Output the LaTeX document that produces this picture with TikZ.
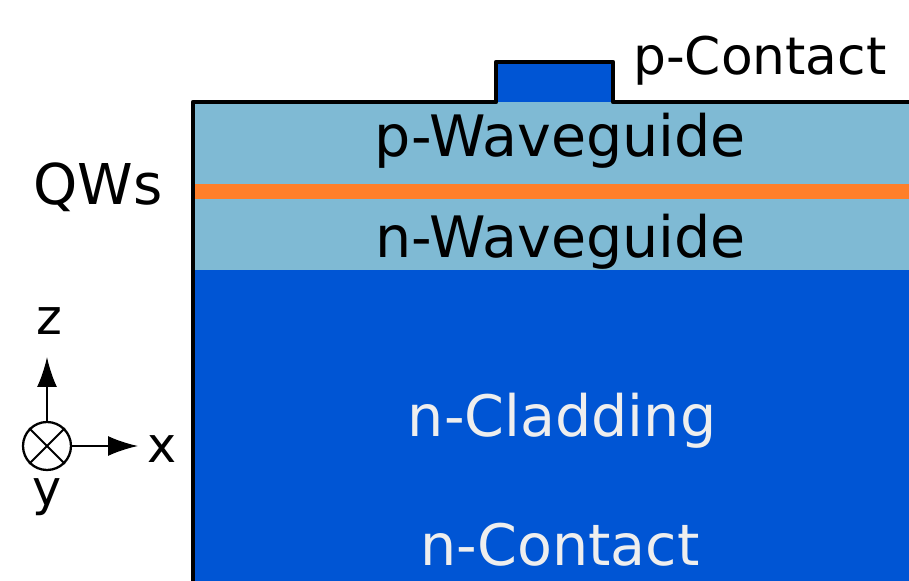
\documentclass[tikz,border=0pt]{standalone}
\usepackage{fontspec}
\setmainfont{DejaVu Sans}
\usetikzlibrary{arrows.meta,positioning,calc}

\definecolor{wgblue}{HTML}{7FBAD4}
\definecolor{qworange}{HTML}{FF7F2A}
\definecolor{cladblue}{HTML}{0055D4}
\definecolor{offwhite}{HTML}{EEEEEE}

\begin{document}
\begin{tikzpicture}
    [>={Latex[length=0.6cm,width=0.4cm]},
     layer/.style={font=\fontsize{32.5}{33}\selectfont,anchor=base},
     axislabel/.style={font=\fontsize{28}{28}\selectfont,anchor=base}]

    \useasboundingbox (0,0) rectangle (18.18,11.6);
    \begin{scope}
    \clip (0,0) rectangle (18.18,11.6);

    % layer stack
    \fill[cladblue] (3.86,-1) rectangle (20,6.2);
    \fill[wgblue] (3.86,6.2) rectangle (20,7.62);
    \fill[qworange] (3.86,7.62) rectangle (20,7.92);
    \fill[wgblue] (3.86,7.92) rectangle (20,9.56);
    \fill[cladblue] (9.92,9.56) rectangle (12.26,10.36);

    % outline
    \draw[line width=2.6pt,line join=round] (3.86,-1) -- (3.86,9.56) -- (9.92,9.56)
        -- (9.92,10.36) -- (12.26,10.36) -- (12.26,9.56) -- (20,9.56);
    \end{scope}

    \node[layer] (pwg) at (11.21,8.46) {p-Waveguide};
    \node[layer] (nwg) at (11.21,6.44) {n-Waveguide};
    \node[layer,text=offwhite] (nclad) at (11.24,2.86) {n-Cladding};
    \node[layer,text=offwhite] (ncont) at (11.2,0.3) {n-Contact};
    \node[layer,anchor=base west,font=\fontsize{29.5}{30}\selectfont] (pcont) at (12.54,10.1) {p-Contact};
    \node[layer,anchor=base west,font=\fontsize{32}{32}\selectfont] (qws) at (0.54,7.5) {QWs};

    % coordinate axes
    \node[circle,draw,line width=1.3pt,minimum size=0.96cm,inner sep=0pt] (yaxis) at (0.94,2.68) {};
    \draw[line width=1.2pt] (yaxis.45) -- (yaxis.225);
    \draw[line width=1.2pt] (yaxis.135) -- (yaxis.315);
    \coordinate (ztip) at (0.94,4.46);
    \coordinate (xtip) at (2.76,2.68);
    \draw[line width=1.2pt,->] (yaxis.north) -- (ztip);
    \draw[line width=1.2pt,->] (yaxis.east) -- (xtip);
    \node[axislabel] (zlab) at (0.98,4.9) {z};
    \node[axislabel,anchor=base west] (xlab) at (2.82,2.36) {x};
    \node[axislabel] (ylab) at (0.94,1.5) {y};

\end{tikzpicture}
\end{document}
